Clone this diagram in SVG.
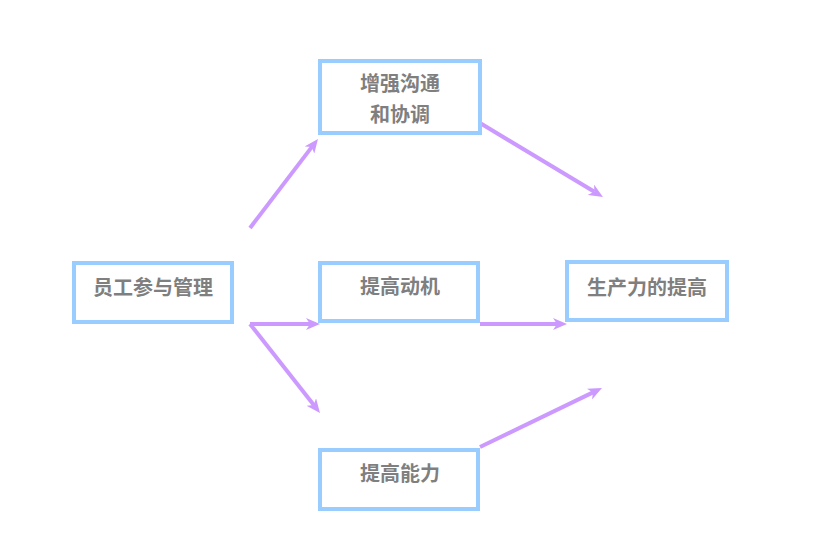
<svg xmlns="http://www.w3.org/2000/svg" width="821" height="546" viewBox="0 0 821 546">
  <style>
    .box { fill: #ffffff; stroke: #99ccff; stroke-width: 4; }
    .lbl { font-family: "Liberation Serif", "Noto Sans CJK SC", serif; font-size: 20px; font-weight: bold; fill: #7f7f7f; text-anchor: middle; dominant-baseline: central; }
    .conn { stroke: #cc99ff; stroke-width: 4; fill: none; marker-end: url(#ah); }
  </style>
  <defs>
    <marker id="ah" viewBox="0 0 14 12" refX="4" refY="6" markerWidth="14" markerHeight="12" markerUnits="userSpaceOnUse" orient="auto">
      <path d="M0,0 L14,6 L0,12 L4,6 Z" fill="#cc99ff"/>
    </marker>
  </defs>
  <rect width="821" height="546" fill="#ffffff"/>
  <g id="connectors">
    <line class="conn" x1="250" y1="228" x2="311.9" y2="146.9"/>
    <line class="conn" x1="250" y1="324" x2="310" y2="324"/>
    <line class="conn" x1="250" y1="324" x2="313.8" y2="405.1"/>
    <line class="conn" x1="480" y1="123" x2="594.4" y2="191.8"/>
    <line class="conn" x1="480" y1="324" x2="557" y2="324"/>
    <line class="conn" x1="480" y1="447" x2="593" y2="392.4"/>
  </g>
  <g id="node-participation">
    <rect class="box" x="74" y="263" width="158" height="59"/>
    <text class="lbl" x="153" y="288">员工参与管理</text>
  </g>
  <g id="node-communication">
    <rect class="box" x="320" y="61" width="160" height="72"/>
    <text class="lbl" x="400" y="84">增强沟通</text>
    <text class="lbl" x="400" y="115">和协调</text>
  </g>
  <g id="node-motivation">
    <rect class="box" x="320" y="263" width="158" height="58"/>
    <text class="lbl" x="400" y="287">提高动机</text>
  </g>
  <g id="node-ability">
    <rect class="box" x="320" y="450" width="158" height="59"/>
    <text class="lbl" x="400" y="474">提高能力</text>
  </g>
  <g id="node-productivity">
    <rect class="box" x="567" y="262" width="160" height="58"/>
    <text class="lbl" x="647" y="288">生产力的提高</text>
  </g>
</svg>
